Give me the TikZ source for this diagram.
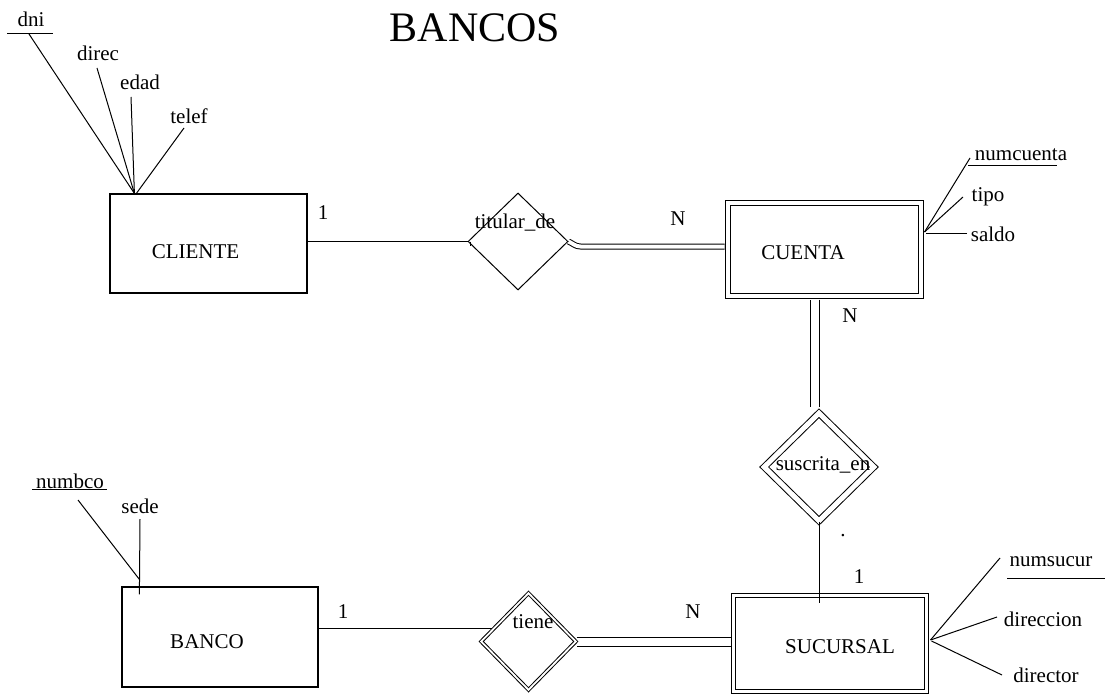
\documentclass[tikz,border=0pt]{standalone}
\usepackage{fontspec}
\setmainfont{Liberation Serif}
\usetikzlibrary{shapes.geometric,backgrounds}
\begin{document}
\begin{tikzpicture}[x=1pt,y=-1pt,
  every node/.style={font=\fontsize{21}{24}\selectfont, inner sep=0pt},
  ent/.style={draw, line width=1.2pt, rectangle},
  went/.style={draw, double, line width=1pt, rectangle},
  rel/.style={draw, diamond, line width=1pt},
  lnk/.style={line width=1pt},
  dlnk/.style={double, line width=1pt},
]
\useasboundingbox (0,0) rectangle (1105,695);

% title
\node[font=\fontsize{42}{48}\selectfont] (title) at (475,28) {BANCOS};

% entities
\node[ent, minimum width=197pt, minimum height=99pt,
  label={[shift={(-13,8)}]center:CLIENTE}] (cliente) at (208.5,243.5) {};
\node[went, double distance=4pt, minimum width=193pt, minimum height=93pt,
  label={[shift={(-21.5,3.5)}]center:CUENTA}] (cuenta) at (824.5,249.5) {};
\node[ent, minimum width=196pt, minimum height=100pt,
  label={[shift={(-13,5)}]center:BANCO}] (banco) at (220,637) {};
\node[went, double distance=3pt, minimum width=193.5pt, minimum height=96pt,
  label={[shift={(10.25,4)}]center:SUCURSAL}] (sucursal) at (829.75,643) {};

% relationships
\node[rel, minimum width=100pt, minimum height=97pt,
  label={[shift={(-3,-18.5)}]center:titular\_de}] (tit) at (518,241.5) {};
\node[rel, double, double distance=5pt, minimum width=110pt, minimum height=108pt,
  label={[shift={(4,-2)}]center:suscrita\_en}] (susc) at (819,467) {};
\node[rel, double, double distance=1.8pt, minimum width=95pt, minimum height=97pt,
  label={[shift={(4.5,-19.5)}]center:tiene}] (tiene) at (528.5,641.5) {};

% cardinalities
\node (c1) at (323,213) {1};
\node (n1) at (678,219) {N};
\node (n2) at (850,316) {N};
\node (dt) at (843,536) {.};
\node (n3) at (859,577) {1};
\node (c2) at (343,612) {1};
\node (n4) at (693,612) {N};

% attributes
\node (dni) at (31,19) {dni};
\node (direc) at (98,53) {direc};
\node (edad) at (140,82) {edad};
\node (telef) at (189,116) {telef};
\node (numc) at (1021,155) {numcuenta};
\node (tipo) at (988,197) {tipo};
\node (saldo) at (993,234) {saldo};
\node (nums) at (1051,562) {numsucur};
\node (direccion) at (1043,619) {direccion};
\node (director) at (1046,675) {director};
\node (numbco) at (70,481) {numbco};
\node (sede) at (140,506) {sede};

% attachment points
\coordinate (ca) at ([xshift=25pt]cliente.north west);
\coordinate (cu) at ([shift={(3,-17.5)}]cuenta.east);
\coordinate (su) at ([shift={(3.5,-3)}]sucursal.east);
\coordinate (tk) at ([shift={(12,5)}]tit.east);

\begin{scope}[on background layer]
  % key underlines
  \draw[lnk] ([shift={(-24,15)}]dni.center) -- ([shift={(22,15)}]dni.center);
  \draw[lnk] ([shift={(-53,11)}]numc.center) -- ([shift={(36,11)}]numc.center);
  \draw[lnk] ([shift={(-44,16)}]nums.center) -- ([shift={(54,16)}]nums.center);
  \draw[lnk] ([shift={(-38,8)}]numbco.center) -- ([shift={(37,8)}]numbco.center);
  % attribute lines
  \draw[lnk] ([shift={(-2,15)}]dni.center) -- (ca);
  \draw[lnk] ([shift={(-1,15)}]direc.center) -- (ca);
  \draw[lnk] ([shift={(-9,15)}]edad.center) -- (ca);
  \draw[lnk] ([shift={(-5,12)}]telef.center) -- ([xshift=2pt]ca);
  \draw[lnk] ([shift={(-51,3)}]numc.center) -- (cu);
  \draw[lnk] ([shift={(-25,0)}]tipo.center) -- (cu);
  \draw[lnk] ([shift={(-26,-1)}]saldo.center) -- ([shift={(1,1)}]cu);
  \draw[lnk] ([shift={(-51,-4)}]nums.center) -- (su);
  \draw[lnk] ([shift={(-46,-2)}]direccion.center) -- (su);
  \draw[lnk] ([shift={(-44,0)}]director.center) -- ([shift={(1,1)}]su);
  \draw[lnk] ([shift={(8,19)}]numbco.center) -- ([shift={(18,-7)}]banco.north west);
  \draw[lnk] ([shift={(0,13)}]sede.center) -- ([shift={(18,8)}]banco.north west);
  % relationship connectors
  \draw[lnk] (cliente.east |- tit.west) -- (tit.west);
  \draw[lnk] ([xshift=3pt]tit.west) -- ([xshift=3pt,yshift=-4pt]tit.west);
  \draw[dlnk, double distance=4pt, shorten >=3pt] (tit.east) to[out=-25,in=180] (tk) -- (tk -| cuenta.west);
  \draw[dlnk, double distance=8pt] ([xshift=-10pt,yshift=-3pt]cuenta.south) -- ([xshift=-4.5pt,yshift=6pt]susc.north);
  \draw[lnk] ([yshift=9pt]banco.east) -- ([xshift=12pt,yshift=13.5pt]tiene.west);
  \draw[dlnk, double distance=8pt, shorten >=2pt] (tiene.east) -- (tiene.east -| sucursal.west);
\end{scope}

\draw[lnk, shorten >=-8pt] (susc.south) -- (susc.south |- sucursal.north);
\end{tikzpicture}
\end{document}
